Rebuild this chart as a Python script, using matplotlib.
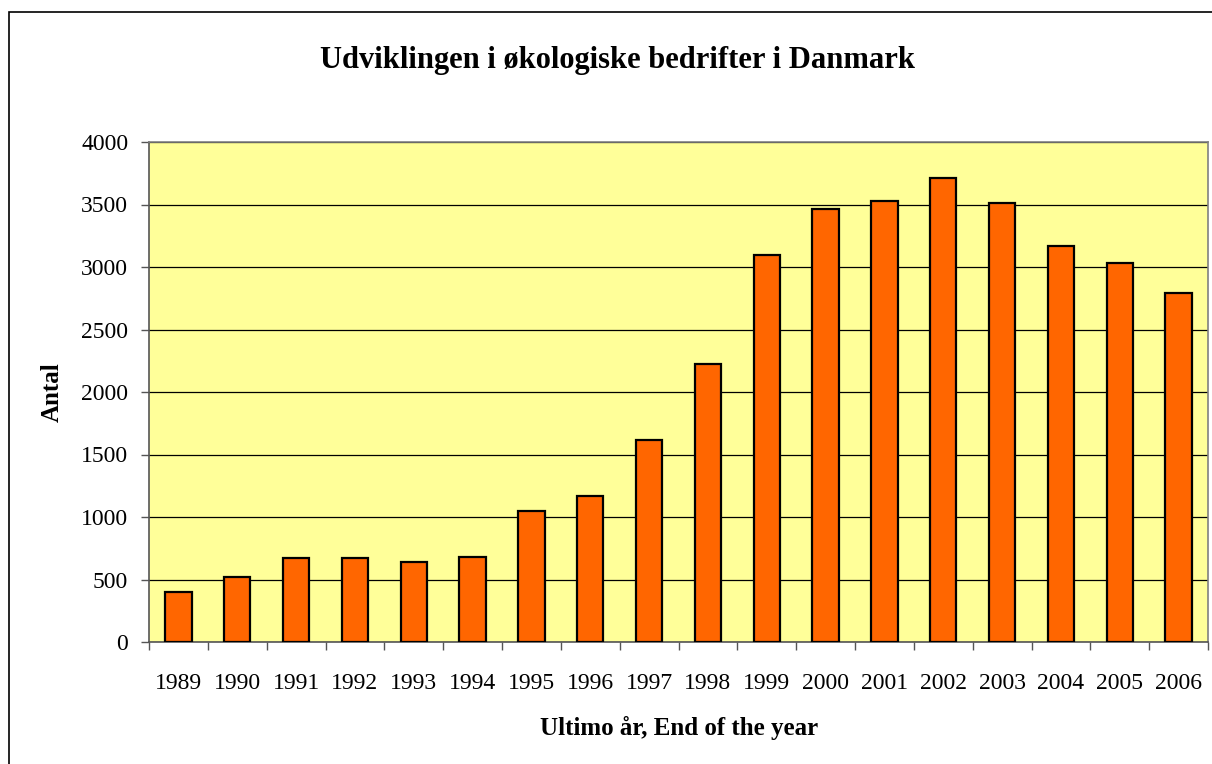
import numpy as np
import matplotlib
matplotlib.use("Agg")
import matplotlib.pyplot as plt
from matplotlib.patches import Rectangle

# Data
years = ["1989", "1990", "1991", "1992", "1993", "1994", "1995", "1996", "1997",
         "1998", "1999", "2000", "2001", "2002", "2003", "2004", "2005", "2006"]
antal = [400, 523, 675, 675, 640, 677, 1050, 1166, 1617,
         2228, 3099, 3466, 3525, 3714, 3510, 3166, 3036, 2794]
yticks = [0, 500, 1000, 1500, 2000, 2500, 3000, 3500, 4000]

title = "Udviklingen i økologiske bedrifter i Danmark"
xlabel = "Ultimo år, End of the year"
ylabel = "Antal"

plt.rcParams["font.family"] = ["Liberation Serif", "DejaVu Serif"]

W, H = 1212, 764
fig = plt.figure(figsize=(W / 100, H / 100), dpi=100)

# outer chart border (cut off on right/bottom like in the reference)
fig.patches.append(Rectangle((9 / W, -0.1), 1.2, 1 - 12 / H + 0.1, transform=fig.transFigure,
                             fill=False, edgecolor="black", linewidth=1.2))

ax = fig.add_axes([149 / W, 1 - 642 / H, (1208 - 149) / W, 500 / H])
ax.set_facecolor("#FFFF99")

x = np.arange(len(years))
ax.bar(x, antal, width=0.45, color="#FF6600", edgecolor="black", linewidth=1.6, zorder=3)

ax.set_xlim(-0.5, len(years) - 0.5)
ax.set_ylim(0, 4000)
ax.set_yticks(yticks)
ax.set_yticklabels([str(v) for v in yticks], fontsize=17)
ax.yaxis.grid(True, color="black", linewidth=0.9, zorder=1)
ax.set_axisbelow(True)

ax.set_xticks(x)
ax.set_xticklabels(years, fontsize=17)
ax.set_xticks(np.arange(-0.5, len(years)), minor=True)
ax.tick_params(axis="x", which="major", length=0, pad=22)
ax.tick_params(axis="x", which="minor", length=6, width=1, color="#555555", direction="out")
ax.tick_params(axis="y", length=6, width=1, color="#555555", pad=9)

for s in ax.spines.values():
    s.set_color("#808080")
    s.set_linewidth(1.2)
ax.spines["left"].set_color("#555555")
ax.spines["bottom"].set_color("#555555")

fig.text(617 / W, 1 - 68 / H, title, ha="center", va="baseline",
         fontsize=22, fontweight="bold")
fig.text(679 / W, 1 - 728 / H, xlabel, ha="center", va="center",
         fontsize=18, fontweight="bold")
fig.text(52 / W, 1 - 392 / H, ylabel, ha="center", va="center", rotation=90,
         fontsize=18, fontweight="bold")

fig.savefig("out.png", dpi=100)
